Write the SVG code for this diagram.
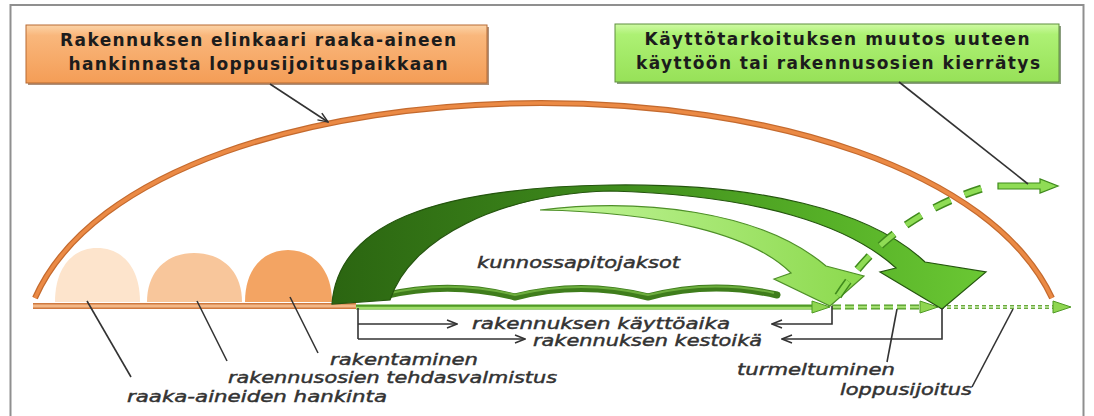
<svg xmlns="http://www.w3.org/2000/svg" width="1094" height="416" viewBox="0 0 1094 416">
<style>
.hdr{font-family:"DejaVu Sans","Liberation Sans",sans-serif;font-weight:bold;font-size:17px;fill:#1c1c1c;text-anchor:middle}
.lbl{font-family:"DejaVu Sans","Liberation Sans",sans-serif;font-style:italic;font-size:16px;fill:#333;stroke:#333;stroke-width:0.45}
.lead{stroke:#333;stroke-width:1.6;fill:none}
.dim{stroke:#333;stroke-width:1.6;fill:none}
</style>
<defs>
<linearGradient id="og" x1="0" y1="0" x2="0" y2="1"><stop offset="0" stop-color="#fcd4a8"/><stop offset="0.18" stop-color="#f9b77c"/><stop offset="1" stop-color="#f49d56"/></linearGradient>
<linearGradient id="gg" x1="0" y1="0" x2="0" y2="1"><stop offset="0" stop-color="#cffaa4"/><stop offset="0.18" stop-color="#adf174"/><stop offset="1" stop-color="#97e158"/></linearGradient>
<linearGradient id="dk" gradientUnits="userSpaceOnUse" x1="330" y1="0" x2="990" y2="0"><stop offset="0" stop-color="#2b6511"/><stop offset="0.4" stop-color="#3d881b"/><stop offset="0.75" stop-color="#56b027"/><stop offset="1" stop-color="#6bc834"/></linearGradient>
<linearGradient id="lt" gradientUnits="userSpaceOnUse" x1="540" y1="0" x2="870" y2="0"><stop offset="0" stop-color="#c2f59a"/><stop offset="1" stop-color="#8bd94c"/></linearGradient>
<marker id="chev" viewBox="0 0 12 10" refX="11" refY="5" markerWidth="12" markerHeight="10" markerUnits="userSpaceOnUse" orient="auto"><path d="M1,1 L11,5 L1,9" fill="none" stroke="#333" stroke-width="1.5"/></marker>
<path id="tri" d="M0,-6 L18,0 L0,6 Z"/>
</defs>
<rect width="1094" height="416" fill="#fff"/>
<g id="frame"><rect x="10.5" y="5" width="1073" height="420" fill="none" stroke="#8f8f8f" stroke-width="2"/></g>

<g id="lifecycle-arc"><path d="M35,298 C150,38 930,38 1052,298" fill="none" stroke="#c46a2e" stroke-width="6"/><path d="M35,298 C150,38 930,38 1052,298" fill="none" stroke="#eb8a45" stroke-width="3.5"/></g>

<g id="phase-raw-materials"><path d="M55,302 C55,266 74,248 97,248 C121,248 140,266 140,302 Z" fill="#fde4cc"/></g>
<g id="phase-prefab"><path d="M147,302 C147,270 168,253 194,253 C221,253 242,270 242,302 Z" fill="#f8c69b"/></g>
<g id="phase-construction"><path d="M245,302 C245,268 264,250 288,250 C312,250 332,268 332,302 Z" fill="#f3a463"/></g>

<g id="timeline">
<line x1="33" y1="306" x2="356" y2="306" stroke="#cf7a40" stroke-width="6"/>
<line x1="33" y1="306" x2="356" y2="306" stroke="#f4b887" stroke-width="3"/>
<line x1="356" y1="307" x2="815" y2="307" stroke="#4f9a24" stroke-width="5"/>
<line x1="356" y1="308" x2="815" y2="308" stroke="#9fdc6a" stroke-width="2.5"/>
<use href="#tri" x="812" y="307" fill="#8fd651" stroke="#4f9a24" stroke-width="1"/>
<line x1="832" y1="307" x2="920" y2="307" stroke="#4f9a24" stroke-width="5" stroke-dasharray="9 4"/>
<line x1="832" y1="307" x2="920" y2="307" stroke="#a3de70" stroke-width="2.5" stroke-dasharray="9 4"/>
<use href="#tri" x="920" y="307" fill="#8fd651" stroke="#4f9a24" stroke-width="1"/>
<line x1="940" y1="307" x2="1053" y2="307" stroke="#6aa840" stroke-width="4" stroke-dasharray="4 3"/>
<line x1="940" y1="307" x2="1053" y2="307" stroke="#c5eaa5" stroke-width="1.5" stroke-dasharray="4 3"/>
<use href="#tri" x="1053" y="307" fill="#8fd651" stroke="#4f9a24" stroke-width="1"/>
</g>

<g id="maintenance-brace"><path d="M383,296 Q450,280 515,297 Q581,280 648,297 Q712,280 777,295" fill="none" stroke="#3f7d1c" stroke-width="7" stroke-linecap="round"/><path d="M386,294 Q450,279 515,295 Q581,279 648,295 Q712,279 774,293" fill="none" stroke="#6cad3d" stroke-width="2"/></g>

<g id="arrow-service-life"><path d="M540,210 C640,198 760,210 826,266 L864,276 L830,306 L774,279 L791,273 C752,234 660,212 540,210 Z" fill="url(#lt)" stroke="#4e8f28" stroke-width="1.2"/></g>

<g id="arrow-durability"><path d="M332,304 C338,225 430,188 610,185 C760,183 870,210 925,262 L986,272 L942,309 L880,272 L896,268 C850,226 760,195 610,191 C500,194 410,238 390,300 Z" fill="url(#dk)" stroke="#24550e" stroke-width="1.2"/></g>

<g id="reuse-path">
<path d="M838,296 Q890,215 990,186" fill="none" stroke="#3f8a1c" stroke-width="8" stroke-dasharray="18 15"/>
<path d="M838,296 Q890,215 990,186" fill="none" stroke="#8fdc55" stroke-width="5" stroke-dasharray="18 15"/>
<path d="M998,183 L1040,183 L1040,179 L1058,186 L1040,193 L1040,189 L998,189 Z" fill="#8fdc55" stroke="#3f8a1c" stroke-width="1.2"/>
</g>

<g id="box-lifecycle">
<rect x="28" y="27" width="461" height="58" fill="#7a4622" opacity="0.6"/>
<rect x="26" y="25" width="461" height="58" fill="url(#og)" stroke="#b86a32" stroke-width="1"/>
<text class="hdr" x="258" y="46" textLength="396">Rakennuksen elinkaari raaka-aineen</text>
<text class="hdr" x="258" y="70" textLength="379">hankinnasta loppusijoituspaikkaan</text>
</g>

<g id="box-reuse">
<rect x="617" y="26" width="444" height="58" fill="#3d5e2a" opacity="0.6"/>
<rect x="615" y="24" width="444" height="58" fill="url(#gg)" stroke="#5f8f3e" stroke-width="1"/>
<text class="hdr" x="837" y="45" textLength="385">Käyttötarkoituksen muutos uuteen</text>
<text class="hdr" x="838" y="69" textLength="404">käyttöön tai rakennusosien kierrätys</text>
</g>

<g id="connectors">
<line class="lead" x1="270" y1="84" x2="328" y2="122" marker-end="url(#chev)"/>
<line class="lead" x1="899" y1="82" x2="1028" y2="184"/>
<line class="lead" x1="87" y1="301" x2="131" y2="377"/>
<line class="lead" x1="197" y1="301" x2="227" y2="361"/>
<line class="lead" x1="290" y1="297" x2="318" y2="353"/>
<line class="lead" x1="897" y1="309" x2="887" y2="362"/>
<line class="lead" x1="1013" y1="309" x2="972" y2="387"/>
<path class="dim" d="M358,308 V339"/>
<path class="dim" d="M358,324 H457" marker-end="url(#chev)"/>
<path class="dim" d="M358,339 H525" marker-end="url(#chev)"/>
<path class="dim" d="M832,306 V324 H772" marker-end="url(#chev)"/>
<path class="dim" d="M942,308 V339 H782" marker-end="url(#chev)"/>
</g>

<g id="labels">
<text class="lbl" x="477" y="268" textLength="203" lengthAdjust="spacingAndGlyphs">kunnossapitojaksot</text>
<text class="lbl" x="472" y="329" textLength="258" lengthAdjust="spacingAndGlyphs">rakennuksen käyttöaika</text>
<text class="lbl" x="533" y="346" textLength="229" lengthAdjust="spacingAndGlyphs">rakennuksen kestoikä</text>
<text class="lbl" x="330" y="365" textLength="148" lengthAdjust="spacingAndGlyphs">rakentaminen</text>
<text class="lbl" x="228" y="383" textLength="329" lengthAdjust="spacingAndGlyphs">rakennusosien tehdasvalmistus</text>
<text class="lbl" x="127" y="402" textLength="260" lengthAdjust="spacingAndGlyphs">raaka-aineiden hankinta</text>
<text class="lbl" x="737" y="375" textLength="158" lengthAdjust="spacingAndGlyphs">turmeltuminen</text>
<text class="lbl" x="840" y="395" textLength="132" lengthAdjust="spacingAndGlyphs">loppusijoitus</text>
</g>
</svg>
